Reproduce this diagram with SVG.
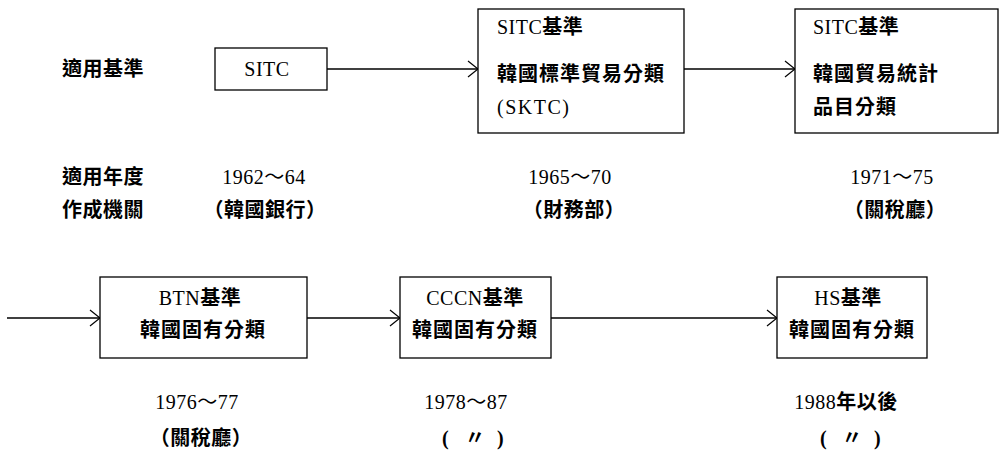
<svg xmlns="http://www.w3.org/2000/svg" width="999" height="454" viewBox="0 0 999 454">
<style>
text{font-family:"Liberation Serif","Noto Sans CJK TC",serif;font-size:20px;fill:#000;dominant-baseline:central;letter-spacing:0.5px}
.c{text-anchor:middle}
.k{font-weight:bold}
.box{fill:#fff;stroke:#000;stroke-width:1.3}
.ln{stroke:#000;stroke-width:1.3;fill:none}
</style>
<defs>
<marker id="ah" markerWidth="14" markerHeight="20" refX="12" refY="10" orient="auto" markerUnits="userSpaceOnUse">
<path d="M2,2 L12,10 L2,18" fill="none" stroke="#000" stroke-width="1.2"/>
</marker>
</defs>
<g id="labels">
<text class="k" x="62" y="69">適用基準</text>
<text class="k" x="62" y="177">適用年度</text>
<text class="k" x="62" y="210">作成機關</text>
</g>
<g id="connectors">
<line class="ln" x1="327" y1="69" x2="478" y2="69" marker-end="url(#ah)"/>
<line class="ln" x1="684" y1="69" x2="795" y2="69" marker-end="url(#ah)"/>
<line class="ln" x1="7" y1="318" x2="100" y2="318" marker-end="url(#ah)"/>
<line class="ln" x1="307" y1="318" x2="400" y2="318" marker-end="url(#ah)"/>
<line class="ln" x1="551" y1="318" x2="777" y2="318" marker-end="url(#ah)"/>
</g>
<g id="n1">
<rect class="box" x="215" y="48" width="112" height="42"/>
<text class="c" x="267" y="69">SITC</text>
<text class="c" x="264" y="177">1962～64</text>
<text class="c k" x="265" y="210">（韓國銀行）</text>
</g>
<g id="n2">
<rect class="box" x="478" y="9" width="206" height="124"/>
<text x="497" y="27">SITC<tspan class="k">基準</tspan></text>
<text class="k" x="497" y="74" style="letter-spacing:1px">韓國標準貿易分類</text>
<text x="497" y="107" style="letter-spacing:1.5px">(SKTC)</text>
<text class="c" x="570" y="177">1965～70</text>
<text class="c k" x="574" y="210">（財務部）</text>
</g>
<g id="n3">
<rect class="box" x="795" y="9" width="203" height="124"/>
<text x="813" y="27">SITC<tspan class="k">基準</tspan></text>
<text class="k" x="813" y="74" style="letter-spacing:1px">韓國貿易統計</text>
<text class="k" x="813" y="107" style="letter-spacing:1px">品目分類</text>
<text class="c" x="892" y="177">1971～75</text>
<text class="c k" x="895" y="210">（關稅廳）</text>
</g>
<g id="n4">
<rect class="box" x="100" y="277" width="207" height="81"/>
<text class="c" x="200" y="298">BTN<tspan class="k">基準</tspan></text>
<text class="c k" x="203" y="330" style="letter-spacing:1px">韓國固有分類</text>
<text class="c" x="197" y="402">1976～77</text>
<text class="c k" x="201" y="438">（關稅廳）</text>
</g>
<g id="n5">
<rect class="box" x="400" y="277" width="151" height="81"/>
<text class="c" x="475" y="298">CCCN<tspan class="k">基準</tspan></text>
<text class="c k" x="475" y="330" style="letter-spacing:1px">韓國固有分類</text>
<text class="c" x="466" y="402">1978～87</text>
<text class="k" x="442" y="438">(<tspan x="465">〃</tspan><tspan x="497">)</tspan></text>
</g>
<g id="n6">
<rect class="box" x="777" y="277" width="150" height="81"/>
<text class="c" x="848" y="298">HS<tspan class="k">基準</tspan></text>
<text class="c k" x="852" y="330" style="letter-spacing:1px">韓國固有分類</text>
<text class="c" x="846" y="402">1988<tspan class="k">年以後</tspan></text>
<text class="k" x="820" y="438">(<tspan x="842">〃</tspan><tspan x="874">)</tspan></text>
</g>
</svg>
